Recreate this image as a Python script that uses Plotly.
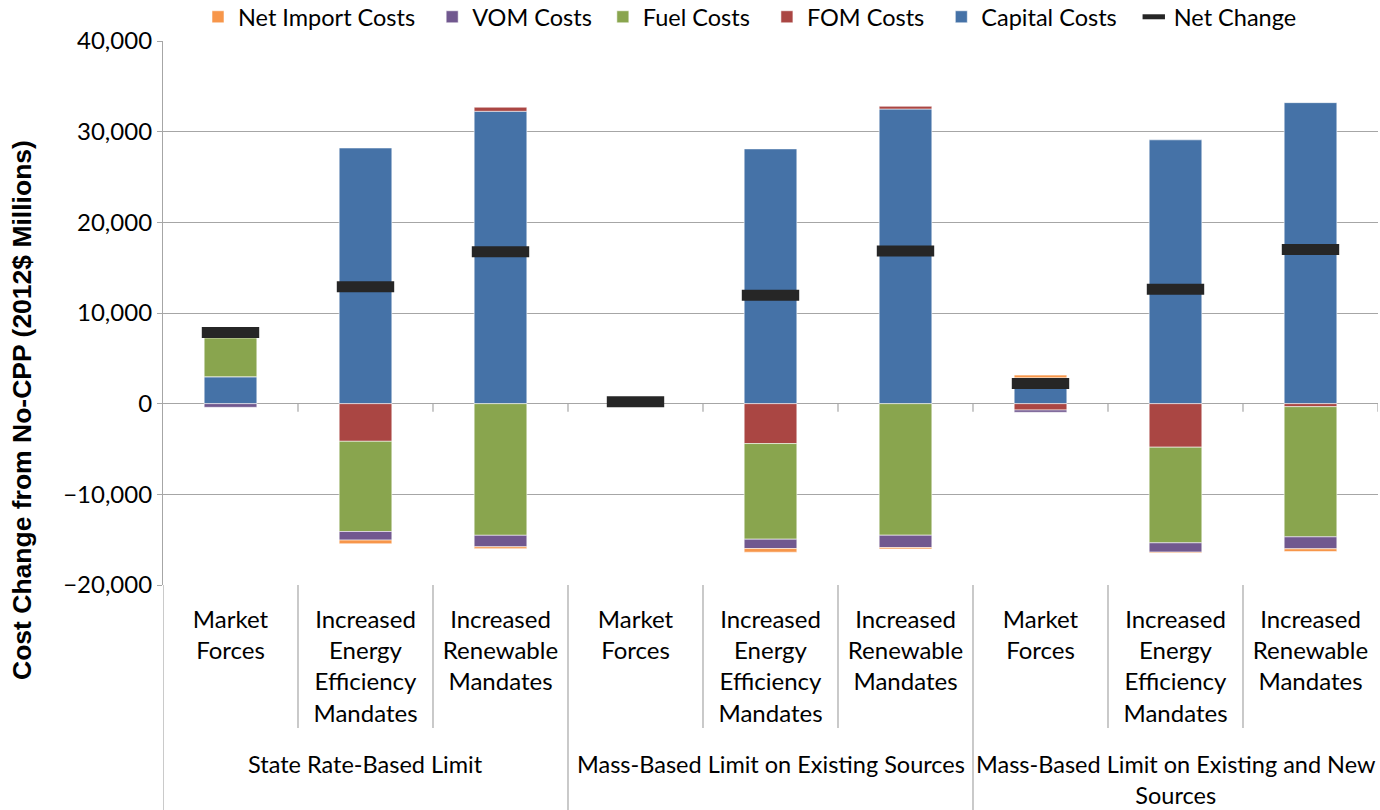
import plotly.graph_objects as go

# ---- data ----
inner_labels = [
    "Market<br>Forces", "Increased<br>Energy<br>Efficiency<br>Mandates", "Increased<br>Renewable<br>Mandates",
    "Market<br>Forces", "Increased<br>Energy<br>Efficiency<br>Mandates", "Increased<br>Renewable<br>Mandates",
    "Market<br>Forces", "Increased<br>Energy<br>Efficiency<br>Mandates", "Increased<br>Renewable<br>Mandates",
]
group_labels = [
    "State Rate-Based Limit",
    "Mass-Based Limit on Existing Sources",
    "Mass-Based Limit on Existing and New<br>Sources",
]
capital_costs = [2975, 28200, 32250, 0, 28100, 32500, 2850, 29100, 33200]
fom_costs = [0, -4150, 450, 0, -4400, 300, -700, -4800, -330]
fuel_costs = [4300, -9950, -14520, 0, -10550, -14510, 0, -10550, -14360]
vom_costs = [-400, -950, -1270, 0, -1030, -1360, -250, -1030, -1320]
net_import_costs = [0, -400, -200, 0, -400, -150, 300, -100, -300]
net_change = [7850, 12900, 16750, 200, 11950, 16850, 2230, 12620, 17000]

x = list(range(len(inner_labels)))
FONT = "Lato, 'Liberation Sans', Arial, sans-serif"
PAD = "\u00a0\u00a0"

fig = go.Figure()
series = [
    ("Capital Costs", capital_costs, "#4572A7", 5),
    ("FOM Costs", fom_costs, "#AA4643", 4),
    ("Fuel Costs", fuel_costs, "#89A54E", 3),
    ("VOM Costs", vom_costs, "#71588F", 2),
    ("Net Import Costs", net_import_costs, "#F7964A", 1),
]
for name, vals, color, rank in series:
    pad = "\u00a0" if name == "VOM Costs" else PAD
    fig.add_trace(go.Bar(
        x=x, y=vals, name=name + pad, width=0.39, legendrank=rank,
        marker=dict(color=color, line=dict(color="rgba(255,255,255,0.55)", width=1)),
    ))
fig.add_trace(go.Scatter(
    x=x, y=net_change, name="Net Change", mode="markers", legendrank=6,
    marker=dict(symbol="line-ew", size=41, color="#262626",
                line=dict(color="#262626", width=11)),
))

shapes = []
# inner dividers
for b in [0.5, 1.5, 3.5, 4.5, 6.5, 7.5]:
    shapes.append(dict(type="line", xref="x", yref="paper", x0=b, x1=b, y0=0, y1=-0.263,
                       line=dict(color="#a6a6a6", width=1.2)))
# outer dividers + left axis extension
for b in [-0.5, 2.5, 5.5]:
    shapes.append(dict(type="line", xref="x", yref="paper", x0=b, x1=b, y0=0, y1=-0.42,
                       line=dict(color="#a6a6a6", width=1.2)))
# tick marks on the zero axis at category boundaries
for b in [0.5, 1.5, 2.5, 3.5, 4.5, 5.5, 6.5, 7.5, 8.5]:
    shapes.append(dict(type="line", xref="x", yref="y", ysizemode="pixel", yanchor=0,
                       x0=b, x1=b, y0=0, y1=-8, line=dict(color="#a6a6a6", width=1.2)))

annotations = []
for i, g in enumerate(group_labels):
    annotations.append(dict(x=3 * i + 1, xref="x", y=-0.2996, yref="paper", yanchor="top",
                            text=g, showarrow=False, font=dict(family=FONT, size=23.5, color="#000")))
annotations.append(dict(
    xref="paper", x=-(163 - 22) / 1215, xanchor="center",
    yref="paper", y=(585 - 410) / 544, yanchor="middle",
    text="Cost Change from No-CPP (2012$ Millions)", textangle=-90, showarrow=False,
    font=dict(family="'Liberation Sans', Arial, sans-serif", size=26.5, color="#000", weight="bold")))

fig.update_layout(
    width=1380, height=810,
    margin=dict(l=163, r=2, t=41, b=225, autoexpand=False),
    paper_bgcolor="white", plot_bgcolor="white",
    barmode="relative",
    showlegend=True,
    legend=dict(orientation="h", x=(198 - 163) / 1215, xanchor="left", y=1 + (41 - 17) / 544,
                yanchor="middle", font=dict(family=FONT, size=23.5, color="#000"),
                bgcolor="rgba(0,0,0,0)", itemclick=False),
    xaxis=dict(range=[-0.5, 8.5], tickmode="array", tickvals=x, ticktext=inner_labels,
               showgrid=False, zeroline=False, showline=False, ticks="",
               ticklabelstandoff=18, automargin=False,
               tickfont=dict(family=FONT, size=24, color="#000")),
    yaxis=dict(range=[-20000, 40000], dtick=10000, tickformat=",", showgrid=True,
               gridcolor="#a6a6a6", gridwidth=1.2, zeroline=False, showline=True,
               linecolor="#a6a6a6", linewidth=1.2, ticks="outside", ticklen=5, tickcolor="#a6a6a6",
               automargin=False,
               tickfont=dict(family=FONT, size=24, color="#000")),
    shapes=shapes,
    annotations=annotations,
)

fig.write_html("out.html", config={"displayModeBar": False})

# remove the default page margin so the figure sits at the window's top-left corner
with open("out.html", "r", encoding="utf-8") as f:
    html = f.read()
html = html.replace("<body>", '<body style="margin:0;overflow:hidden">', 1)
with open("out.html", "w", encoding="utf-8") as f:
    f.write(html)
